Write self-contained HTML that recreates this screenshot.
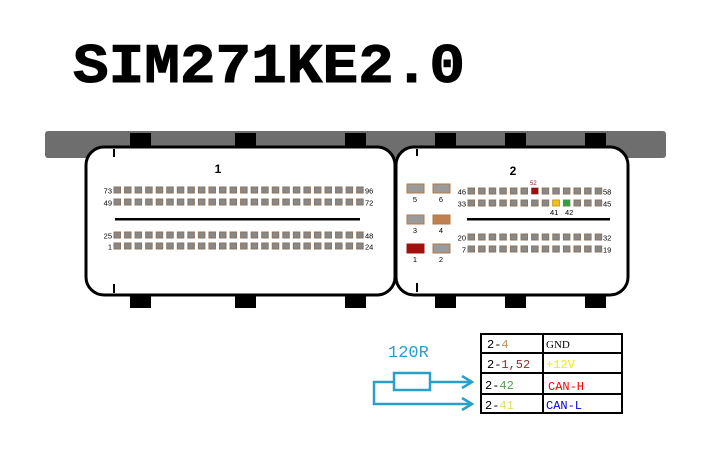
<!DOCTYPE html>
<html><head><meta charset="utf-8"><style>
html,body{margin:0;padding:0;background:#fff;width:719px;height:455px;overflow:hidden}
svg{display:block}
</style></head><body>
<svg width="719" height="455" viewBox="0 0 719 455" xmlns="http://www.w3.org/2000/svg">
<defs>
<g id="r1" fill="#888" stroke="#8a7460" stroke-width="1">
<rect x="114" y="0" width="6.5" height="6"/><rect x="124.55" y="0" width="6.5" height="6"/><rect x="135.1" y="0" width="6.5" height="6"/><rect x="145.65" y="0" width="6.5" height="6"/><rect x="156.2" y="0" width="6.5" height="6"/><rect x="166.75" y="0" width="6.5" height="6"/><rect x="177.3" y="0" width="6.5" height="6"/><rect x="187.85" y="0" width="6.5" height="6"/><rect x="198.4" y="0" width="6.5" height="6"/><rect x="208.95" y="0" width="6.5" height="6"/><rect x="219.5" y="0" width="6.5" height="6"/><rect x="230.05" y="0" width="6.5" height="6"/><rect x="240.6" y="0" width="6.5" height="6"/><rect x="251.15" y="0" width="6.5" height="6"/><rect x="261.7" y="0" width="6.5" height="6"/><rect x="272.25" y="0" width="6.5" height="6"/><rect x="282.8" y="0" width="6.5" height="6"/><rect x="293.35" y="0" width="6.5" height="6"/><rect x="303.9" y="0" width="6.5" height="6"/><rect x="314.45" y="0" width="6.5" height="6"/><rect x="325" y="0" width="6.5" height="6"/><rect x="335.55" y="0" width="6.5" height="6"/><rect x="346.1" y="0" width="6.5" height="6"/><rect x="356.65" y="0" width="6.5" height="6"/>
</g>
<g id="r2" fill="#888" stroke="#8a7460" stroke-width="1">
<rect x="468" y="0" width="6.5" height="6"/><rect x="478.6" y="0" width="6.5" height="6"/><rect x="489.2" y="0" width="6.5" height="6"/><rect x="499.8" y="0" width="6.5" height="6"/><rect x="510.4" y="0" width="6.5" height="6"/><rect x="521" y="0" width="6.5" height="6"/><rect x="531.6" y="0" width="6.5" height="6"/><rect x="542.2" y="0" width="6.5" height="6"/><rect x="552.8" y="0" width="6.5" height="6"/><rect x="563.4" y="0" width="6.5" height="6"/><rect x="574" y="0" width="6.5" height="6"/><rect x="584.6" y="0" width="6.5" height="6"/><rect x="595.2" y="0" width="6.5" height="6"/>
</g>
</defs>
<text x="73" y="82" font-family="Liberation Mono, monospace" font-weight="bold" font-size="56" textLength="392" lengthAdjust="spacingAndGlyphs" fill="#000" stroke="#000" stroke-width="1">SIM271KE2.0</text>
<rect x="45" y="131" width="621" height="27" rx="3" fill="#6e6e6e"/>
<g fill="#000">
<rect x="130" y="133" width="21" height="16"/><rect x="235" y="133" width="21" height="16"/><rect x="345" y="133" width="21" height="16"/>
<rect x="130" y="292" width="21" height="16"/><rect x="235" y="292" width="21" height="16"/><rect x="345" y="292" width="21" height="16"/>
<rect x="435" y="133" width="21" height="16"/><rect x="505" y="133" width="21" height="16"/><rect x="585" y="133" width="21" height="16"/>
<rect x="435" y="292" width="21" height="16"/><rect x="505" y="292" width="21" height="16"/><rect x="585" y="292" width="21" height="16"/>
</g>
<rect x="86" y="147" width="309" height="148" rx="18" fill="#fff" stroke="#000" stroke-width="3"/>
<rect x="396" y="147" width="232" height="148" rx="18" fill="#fff" stroke="#000" stroke-width="3"/>
<g fill="#000"><rect x="113" y="149" width="2" height="8"/><rect x="113" y="284" width="2" height="9"/>
<rect x="416" y="149" width="2" height="7"/><rect x="416" y="283" width="2" height="9"/></g>
<text x="218" y="173" font-family="Liberation Sans, sans-serif" font-weight="bold" font-size="12" text-anchor="middle">1</text>
<use href="#r1" y="187"/><use href="#r1" y="199"/><use href="#r1" y="232"/><use href="#r1" y="243"/>
<rect x="115" y="218" width="245" height="2.5" fill="#000"/>
<g font-family="Liberation Sans, sans-serif" font-size="7.5" fill="#000">
<text x="112" y="193.5" text-anchor="end">73</text><text x="112" y="205.5" text-anchor="end">49</text>
<text x="112" y="238.5" text-anchor="end">25</text><text x="112" y="249.5" text-anchor="end">1</text>
<text x="365" y="193.5">96</text><text x="365" y="205.5">72</text>
<text x="365" y="238.5">48</text><text x="365" y="249.5">24</text>
</g>
<text x="513" y="175" font-family="Liberation Sans, sans-serif" font-weight="bold" font-size="12" text-anchor="middle">2</text>
<g stroke="#b07a45" stroke-width="1">
<rect x="407" y="184" width="17" height="9" fill="#9a9a9a"/>
<rect x="433" y="184" width="17" height="9" fill="#9a9a9a"/>
<rect x="407" y="215" width="17" height="9" fill="#9a9a9a"/>
<rect x="433" y="215" width="17" height="9" fill="#c08050"/>
<rect x="407" y="244" width="17" height="9" fill="#a01010" stroke="#a01010"/>
<rect x="433" y="244" width="17" height="9" fill="#9a9a9a"/>
</g>
<g font-family="Liberation Sans, sans-serif" font-size="7.5" fill="#000" text-anchor="middle">
<text x="415" y="202">5</text><text x="441" y="202">6</text>
<text x="415" y="233">3</text><text x="441" y="233">4</text>
<text x="415" y="262">1</text><text x="441" y="262">2</text>
</g>
<use href="#r2" y="188"/><use href="#r2" y="200"/><use href="#r2" y="234"/><use href="#r2" y="246"/>
<rect x="531.6" y="188" width="6.5" height="6" fill="#9a1010"/>
<rect x="552.8" y="200" width="6.5" height="6" fill="#f0c020" stroke="#d0a010"/>
<rect x="563.4" y="200" width="6.5" height="6" fill="#30a040"/>
<rect x="467" y="218" width="143" height="2.5" fill="#000"/>
<g font-family="Liberation Sans, sans-serif" font-size="7.5" fill="#000">
<text x="466" y="194.5" text-anchor="end">46</text><text x="466" y="206.5" text-anchor="end">33</text>
<text x="466" y="240.5" text-anchor="end">20</text><text x="466" y="252.5" text-anchor="end">7</text>
<text x="603" y="194.5">58</text><text x="603" y="206.5">45</text>
<text x="603" y="240.5">32</text><text x="603" y="252.5">19</text>
<text x="550" y="215">41</text><text x="565" y="215">42</text>
<text x="530" y="185" font-size="6" fill="#8a2020">52</text>
</g>
<g stroke="#2a9fc8" stroke-width="2.5" fill="none">
<rect x="394" y="373" width="36" height="17"/>
<path d="M430 382 H470"/>
<path d="M394 382 H374 V404 H470"/>
<path d="M462 376 L472 382 L462 388"/>
<path d="M462 398 L472 404 L462 410"/>
</g>
<text x="388" y="357" font-family="Liberation Mono, monospace" font-size="17" fill="#2a9fc8">120R</text>
<g stroke="#000" stroke-width="2" fill="none">
<rect x="481" y="334" width="141" height="79"/>
<path d="M481 353 H622 M481 373 H622 M481 394 H622 M543 334 V413"/>
</g>
<g font-family="Liberation Mono, monospace" font-size="12">
<text x="487" y="348"><tspan fill="#000">2-</tspan><tspan fill="#c09060">4</tspan></text>
<text x="487" y="368"><tspan fill="#000">2-</tspan><tspan fill="#8a3030">1,52</tspan></text>
<text x="485" y="389"><tspan fill="#000">2-</tspan><tspan fill="#50a050">42</tspan></text>
<text x="485" y="409"><tspan fill="#000">2-</tspan><tspan fill="#e0e060">41</tspan></text>
<text x="546" y="348" font-family="Liberation Serif, serif" font-size="11" fill="#000">GND</text>
<text x="546" y="368" fill="#f0f000">+12V</text>
<text x="548" y="390" fill="#ff0000">CAN-H</text>
<text x="546" y="409" fill="#0000e0">CAN-L</text>
</g>
</svg>
</body></html>
